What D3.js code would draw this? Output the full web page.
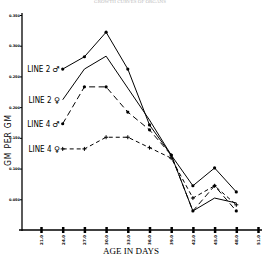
<!DOCTYPE html>
<html>
<head>
<meta charset="utf-8">
<script src="https://cdn.jsdelivr.net/npm/d3@7"></script>
<style>
  body { margin: 0; background: #fff; }
  svg { display: block; }
  text { fill: #000; }
</style>
</head>
<body>
<svg id="chart" width="266" height="257"></svg>
<script>
// age ticks (days) and y ticks
const ages = [21, 24, 27, 30, 33, 36, 39, 42, 45, 48, 51];
const dataAges = [24, 27, 30, 33, 36, 39, 42, 45, 48];
const yTicks = [0.05, 0.10, 0.15, 0.20, 0.25, 0.30, 0.35];

const line2m = [0.262, 0.282, 0.322, 0.262, 0.171, 0.122, 0.072, 0.101, 0.062];
const line2f = [0.212, 0.262, 0.283, 0.231, 0.179, 0.122, 0.031, 0.052, 0.044];
const line4m = [0.173, 0.233, 0.233, 0.192, 0.163, 0.122, 0.031, 0.072, 0.031];
const line4f = [0.132, 0.132, 0.151, 0.151, 0.134, 0.117, 0.052, 0.072, 0.041];

const seriesNames = ["LINE 2", "LINE 2", "LINE 4", "LINE 4"];
const seriesSex = ["\u2642\uFE0E", "\u2640\uFE0E", "\u2642\uFE0E", "\u2640\uFE0E"];

const svg = d3.select("#chart");

const x = d3.scaleLinear()
  .domain([21, 51])
  .range([41, 258]);

const y = d3.scaleLinear()
  .domain([0, 0.35])
  .range([230, 15]);

// faint caption at top
svg.append("text")
  .attr("x", 130).attr("y", 3)
  .attr("text-anchor", "middle")
  .style("font-family", "Liberation Serif")
  .style("font-size", "5px")
  .style("fill", "#bbb")
  .text("GROWTH CURVES OF ORGANS");

// axes
const xAxis = svg.append("g")
  .attr("transform", `translate(0,${y(0)})`)
  .call(d3.axisBottom(x).tickValues(ages).tickSize(3).tickFormat(d => d + ".0"));
xAxis.select(".domain").attr("d", `M19,0H262`).attr("stroke-width", 1.3);
xAxis.selectAll(".tick line").attr("y1", -3).attr("stroke-width", 2.5);
xAxis.selectAll(".tick text")
  .attr("transform", "rotate(-90)")
  .attr("x", -5).attr("y", 0).attr("dy", "0.35em")
  .style("text-anchor", "end")
  .style("font-family", "DejaVu Sans")
  .style("font-weight", "bold")
  .style("font-size", "4px");

const yAxis = svg.append("g")
  .attr("transform", `translate(22,0)`)
  .call(d3.axisLeft(y).tickValues(yTicks).tickSize(2).tickFormat(d3.format(".3f")));
yAxis.select(".domain").attr("d", `M0,13V231`).attr("stroke-width", 1.3);
yAxis.selectAll(".tick text")
  .attr("x", -2)
  .style("font-family", "DejaVu Sans")
  .style("font-weight", "bold")
  .style("font-size", "3.5px");

// axis titles
svg.append("text")
  .attr("transform", "translate(8,140) rotate(-90)")
  .attr("dy", "0.35em")
  .attr("text-anchor", "middle")
  .style("font-family", "DejaVu Sans Condensed")
  .style("font-size", "8.5px")
  .style("letter-spacing", "0.8px")
  .text("GM PER GM");

svg.append("text")
  .attr("x", 131).attr("y", 254)
  .attr("text-anchor", "middle")
  .style("font-family", "Liberation Serif")
  .style("font-size", "9px")
  .text("AGE IN DAYS");

const line = d3.line()
  .x((d, i) => x(dataAges[i]))
  .y(d => y(d));

const series = [
  {vals: line2m, dash: null, marker: "dot"},
  {vals: line2f, dash: null, marker: "none"},
  {vals: line4m, dash: "6,3.5", marker: "dot"},
  {vals: line4f, dash: "4,3", marker: "plus"}
];

series.forEach((s, k) => {
  svg.append("path")
    .datum(s.vals)
    .attr("fill", "none")
    .attr("stroke", "#000")
    .attr("stroke-width", 1)
    .attr("stroke-dasharray", s.dash)
    .attr("d", line);

  if (s.marker === "dot") {
    svg.selectAll(null)
      .data(s.vals)
      .enter().append("circle")
      .attr("cx", (d, i) => x(dataAges[i]))
      .attr("cy", d => y(d))
      .attr("r", 1.6)
      .attr("fill", "#000");
  } else if (s.marker === "plus") {
    svg.selectAll(null)
      .data(s.vals)
      .enter().append("path")
      .attr("d", (d, i) => {
        const cx = x(dataAges[i]), cy = y(d);
        return `M${cx - 2},${cy}H${cx + 2}M${cx},${cy - 2}V${cy + 2}`;
      })
      .attr("stroke", "#000")
      .attr("stroke-width", 1);
  }

  // series label just left of first point
  const t = svg.append("text")
    .attr("x", x(dataAges[0]) - 3)
    .attr("y", y(s.vals[0]))
    .attr("dy", "0.35em")
    .attr("text-anchor", "end")
    .style("font-family", "DejaVu Sans Condensed")
    .style("font-size", "8px")
    .style("fill", "#000");
  t.append("tspan").text(seriesNames[k] + " ");
  t.append("tspan").style("font-family", "DejaVu Sans").text(seriesSex[k]);
});
</script>
</body>
</html>
